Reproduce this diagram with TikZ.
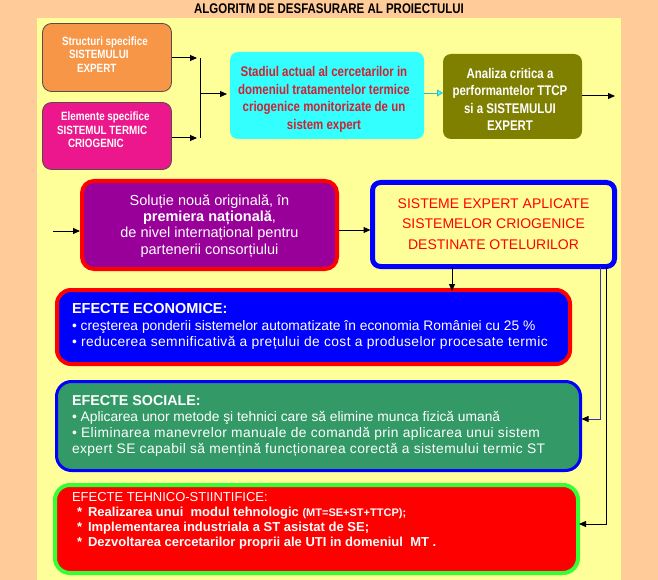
\documentclass[tikz,border=0pt]{standalone}
\usepackage{fontspec}
\setmainfont{Liberation Sans}
\newfontfamily\narrowfont[FakeStretch=0.82]{Liberation Sans}
\newfontfamily\widefont[LetterSpace=3]{Liberation Sans}
\usetikzlibrary{arrows.meta}
\definecolor{peach}{HTML}{FFCC99}
\definecolor{panel}{HTML}{FFFF99}
\definecolor{orangebox}{HTML}{F79646}
\definecolor{magentabox}{HTML}{EC178C}
\definecolor{boxedge}{HTML}{5A4A4A}
\definecolor{cyanbox}{HTML}{33FFFF}
\definecolor{cyanline}{HTML}{33BBCC}
\definecolor{cyantext}{HTML}{CC2233}
\definecolor{olivebox}{HTML}{808000}
\definecolor{purplebox}{HTML}{990099}
\definecolor{redline}{HTML}{FF0000}
\definecolor{bluebox}{HTML}{0000FF}
\definecolor{greenbox}{HTML}{339966}
\definecolor{techedge}{HTML}{33FF33}
\definecolor{techfill}{HTML}{FF0000}
\definecolor{linkblue}{HTML}{3333AA}
\begin{document}
\begin{tikzpicture}[x=1pt,y=-1pt,
  box/.style={rounded corners=#1, inner sep=0pt, outer sep=0pt},
  txt/.style={inner sep=0pt, outer sep=0pt},
  arr/.style={-{Triangle[length=7pt,width=6pt]}, line width=1pt, black},
  topfont/.style={font=\narrowfont\bfseries\fontsize{12}{13.5}\selectfont},
  midfont/.style={font=\narrowfont\bfseries\fontsize{14}{17.6}\selectfont}]
\useasboundingbox (0,0) rectangle (658,580);
\fill[peach] (0,0) rectangle (658,580);
\fill[panel] (37,18) rectangle (621,580);

\node[txt, font=\narrowfont\bfseries\fontsize{14}{16}\selectfont] (title) at (329,9) {ALGORITM DE DESFASURARE AL PROIECTULUI};

% top row boxes
\node[box=9pt, fill=orangebox, draw=boxedge, line width=0.8pt, minimum width=129pt, minimum height=68pt] (orange) at (107,57.5) {};
\node[box=9pt, fill=magentabox, draw=boxedge, line width=0.8pt, minimum width=129pt, minimum height=67pt] (magenta) at (107,136) {};
\node[box=8pt, fill=cyanbox, minimum width=194pt, minimum height=87pt] (cyan) at (327,95.5) {};
\node[box=8pt, fill=olivebox, minimum width=139pt, minimum height=85pt] (olive) at (512.5,96.5) {};

\node[txt, topfont, white, align=left, anchor=west] (orange-t) at (62,54.5)
  {Structuri specifice\\\hspace*{7pt}SISTEMULUI\\\hspace*{15pt}EXPERT};
\node[txt, topfont, white, align=left, anchor=west] (magenta-t) at (57,130)
  {\hspace*{4pt}Elemente specifice\\SISTEMUL TERMIC\\\hspace*{11pt}CRIOGENIC};
\node[txt, midfont, text=cyantext, align=center] (cyan-t) at (324,99.5)
  {Stadiul actual al cercetarilor in\\domeniul tratamentelor termice\\criogenice monitorizate de un\\sistem expert};
\node[txt, midfont, white, align=center] (olive-t) at (510,99.5)
  {Analiza critica a\\performantelor TTCP\\si a SISTEMULUI\\EXPERT};

% top connectors
\coordinate (j1) at (200,58);
\coordinate (j2) at (200,138);
\coordinate (jm) at (200,94);
\draw[arr] (orange.east |- j1) -- ([xshift=-3pt]j1);
\draw[arr] (magenta.east |- j2) -- ([xshift=-3pt]j2);
\draw[line width=1pt] (j1) -- (j2);
\draw[arr] (jm) -- ([xshift=-3pt]cyan.west |- jm);
\coordinate (co) at (424,93);
\draw[cyanline, line width=0.8pt, -{Triangle[length=6pt,width=7pt,color=cyanline,fill=cyanbox]}] (cyan.east |- co) -- (olive.west |- co);
\coordinate (o1) at (615,96);
\draw[arr] (olive.east |- o1) -- (o1);

% second row
\node[box=12pt, fill=purplebox, draw=redline, line width=4pt, minimum width=255pt, minimum height=88pt] (purple) at (209.5,225) {};
\node[box=8pt, fill=panel, draw=bluebox, line width=5pt, minimum width=242pt, minimum height=84pt] (blue) at (493.5,224.5) {};
\node[txt, white, align=center, font=\fontsize{14.5}{16.3}\selectfont] (purple-t) at (209.5,226)
  {Soluție nouă originală, în\\\textbf{premiera națională},\\de nivel internațional pentru\\partenerii consorțiului};
\node[txt, text=redline, align=center, font=\fontsize{14}{20.5}\selectfont] (blue-t) at (493.5,224)
  {SISTEME EXPERT APLICATE\\SISTEMELOR CRIOGENICE\\DESTINATE OTELURILOR};
\coordinate (in2) at (53,231);
\draw[arr] (in2) -- ([xshift=-2pt]purple.west |- in2);
\coordinate (pb) at (339,230);
\draw[arr] ([xshift=2pt]purple.east |- pb) -- ([xshift=-2pt]blue.west |- pb);

% effect boxes
\node[box=14pt, fill=bluebox, draw=redline, line width=4pt, minimum width=513pt, minimum height=74pt] (econ) at (313.5,327) {};
\node[box=15pt, fill=greenbox, draw=bluebox, line width=3pt, minimum width=524pt, minimum height=89pt] (social) at (318.5,426) {};
\node[box=15pt, fill=techfill, draw=techedge, line width=4pt, minimum width=523pt, minimum height=88pt] (tech) at (316.5,529) {};

\node[txt, white, align=left, anchor=west, font=\fontsize{13.8}{16.5}\selectfont] (econ-t) at (72,326.5)
  {{\fontsize{14.5}{16.5}\selectfont\bfseries EFECTE ECONOMICE:}\\
   • creşterea ponderii sistemelor automatizate în economia României cu 25 \%\\
   {\widefont • reducerea semnificativă a prețului de cost a produselor procesate termic}};
\node[txt, white, align=left, anchor=west, font=\fontsize{13.8}{16}\selectfont] (social-t) at (72,425.5)
  {{\fontsize{14.3}{16}\selectfont\bfseries EFECTE SOCIALE:}\\
   • Aplicarea unor metode şi tehnici care să elimine munca fizică umană\\
   {\widefont • Eliminarea manevrelor manuale de comandă prin aplicarea unui sistem}\\
   {\widefont expert SE capabil să mențină funcționarea corectă a sistemului termic ST}};
\node[txt, white, align=left, anchor=west, font=\fontsize{13}{15}\selectfont] (tech-t) at (72,521)
  {EFECTE TEHNICO-STIINTIFICE:\\
   {\bfseries\hspace*{5pt}*\hspace{6pt}Realizarea unui\ \ modul tehnologic {\fontsize{11}{15}\selectfont(MT=SE+ST+TTCP);}}\\
   {\bfseries\hspace*{5pt}*\hspace{6pt}Implementarea industriala a ST asistat de SE;}\\
   {\bfseries\hspace*{5pt}*\hspace{6pt}Dezvoltarea cercetarilor proprii ale UTI in domeniul\ \ MT .}};

% connectors to effects
\coordinate (dx) at (452,0);
\draw[arr] (blue.south -| dx) -- ([yshift=-1pt]econ.north -| dx);
\coordinate (r1) at (600,419);
\coordinate (r2) at (606,524);
\draw[linkblue, line width=0.8pt, -{Triangle[length=7pt,width=6pt,color=black]}] (blue.south -| r1) |- ([xshift=1pt]social.east |- r1);
\draw[arr] (blue.south -| r2) |- ([xshift=1pt]tech.east |- r2);
\end{tikzpicture}
\end{document}
